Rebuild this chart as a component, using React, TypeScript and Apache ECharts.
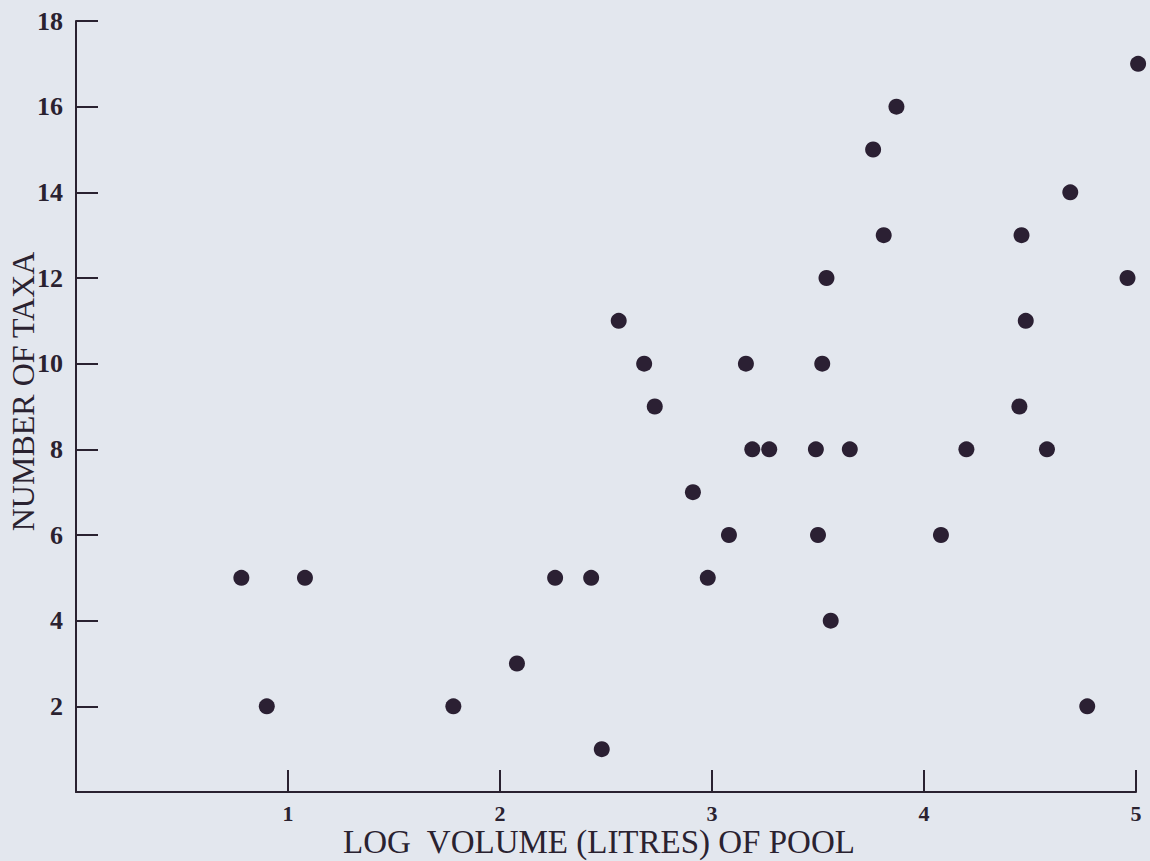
import React, { useEffect, useRef } from "react";
import * as echarts from "echarts";

const logVolume: number[] = [
  0.78, 0.9, 1.08, 1.78, 2.08, 2.26, 2.43, 2.48, 2.56, 2.68, 2.73, 2.91,
  2.98, 3.08, 3.16, 3.19, 3.27, 3.49, 3.5, 3.52, 3.54, 3.56, 3.65, 3.76,
  3.81, 3.87, 4.08, 4.2, 4.45, 4.46, 4.48, 4.58, 4.69, 4.77, 4.96, 5.01,
];
const numberOfTaxa: number[] = [
  5, 2, 5, 2, 3, 5, 5, 1, 11, 10, 9, 7,
  5, 6, 10, 8, 8, 8, 6, 10, 12, 4, 8, 15,
  13, 16, 6, 8, 9, 13, 11, 8, 14, 2, 12, 17,
];
const xTitle = "LOG  VOLUME (LITRES) OF POOL";
const yTitle = "NUMBER OF TAXA";

const INK = "#2a2230";
const FONT = "'Liberation Serif', 'Times New Roman', serif";

export default function App() {
  const ref = useRef<HTMLDivElement>(null);
  useEffect(() => {
    if (!ref.current) return;
    const chart = echarts.init(ref.current, null, { renderer: "svg" });
    const data = logVolume.map((x, i) => [x, numberOfTaxa[i]]);
    chart.setOption({
      animation: false,
      backgroundColor: "#e3e7ee",
      grid: {
        left: 76,
        right: 14,
        top: 21,
        bottom: 69,
        containLabel: false,
        outerBoundsMode: "none",
      },
      xAxis: {
        type: "value",
        min: 0,
        max: 5,
        interval: 1,
        name: xTitle,
        nameLocation: "middle",
        nameGap: 36,
        nameMoveOverlap: false,
        nameTextStyle: {
          fontFamily: FONT,
          fontSize: 33,
          lineHeight: 27,
          color: INK,
          padding: [0, 14, 0, 0],
        },
        axisLine: { show: true, onZero: false, lineStyle: { color: INK, width: 2 } },
        axisTick: { show: true, inside: true, length: 22, lineStyle: { color: INK, width: 2 } },
        axisLabel: {
          margin: 11,
          fontFamily: FONT,
          fontSize: 22,
          lineHeight: 20,
          fontWeight: "bold",
          color: INK,
          formatter: (v: number) => (v === 0 ? "" : String(v)),
        },
        splitLine: { show: false },
      },
      yAxis: {
        type: "value",
        min: 0,
        max: 18,
        interval: 2,
        name: yTitle,
        nameLocation: "middle",
        nameGap: 37,
        nameRotate: 90,
        nameMoveOverlap: false,
        nameTextStyle: {
          fontFamily: FONT,
          fontSize: 32,
          color: INK,
          padding: [0, 0, 0, 30],
        },
        axisLine: { show: true, onZero: false, lineStyle: { color: INK, width: 2 } },
        axisTick: { show: true, inside: true, length: 22, lineStyle: { color: INK, width: 2 } },
        axisLabel: {
          margin: 13,
          fontFamily: FONT,
          fontSize: 26,
          fontWeight: "bold",
          color: INK,
          formatter: (v: number) => (v === 0 ? "" : String(v)),
        },
        splitLine: { show: false },
      },
      series: [
        {
          type: "scatter",
          data,
          symbol: "circle",
          symbolSize: 16,
          clip: false,
          itemStyle: { color: "#2b2033", opacity: 1 },
        },
      ],
    });
    return () => chart.dispose();
  }, []);
  return (
    <div
      ref={ref}
      style={{ position: "fixed", left: 0, top: 0, width: 1150, height: 861 }}
    />
  );
}
